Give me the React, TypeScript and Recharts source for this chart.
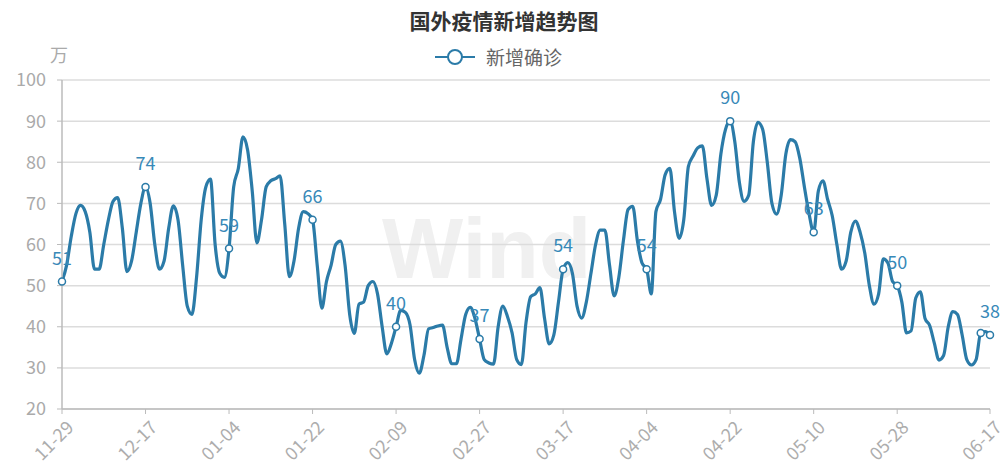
import React from 'react';
import { LineChart, Line, XAxis, YAxis, CartesianGrid, LabelList } from 'recharts';

// daily dates 2020-11-29 .. 2021-06-17
const START = Date.UTC(2020, 10, 29);
const dates: string[] = [];
for (let i = 0; i < 201; i++) {
  const d = new Date(START + i * 86400000);
  dates.push(
    `${String(d.getUTCMonth() + 1).padStart(2, '0')}-${String(d.getUTCDate()).padStart(2, '0')}`
  );
}

// 新增确诊 (万)
const newCases = [
  51, 55, 62, 67.5, 69.5, 68, 63, 54, 54, 60,
  66, 70.5, 71.4, 64, 53.4, 56, 63, 70, 74, 70,
  60, 54, 56, 64, 69.4, 66, 55, 45, 43, 52,
  66, 74, 75.9, 60, 53, 52, 59, 74, 78.5, 86.2,
  83, 73, 60.4, 66, 74, 75.5, 76, 76.7, 65, 52.2,
  56, 64, 68, 67.5, 66, 55, 44.5, 51, 55, 60,
  60.8, 55, 43, 38.4, 45.5, 46, 50, 51, 48, 40,
  33.4, 36, 40, 44, 43.5, 40.5, 32, 28.7, 33, 39.5,
  39.8, 40.2, 40.4, 35, 31, 31, 37, 43, 44.7, 42,
  37, 32, 31.2, 30.9, 40, 45, 42.5, 38.5, 32, 30.8,
  41, 47.3, 48, 49.5, 42, 35.8, 38, 46, 54, 55.6,
  53, 45, 42.1, 46, 53, 60, 63.5, 63.5, 55, 47.5,
  52, 61, 68.5, 69.3, 61, 55.5, 54, 48, 68, 71,
  77, 78.5, 68, 61.5, 66, 79, 81.5, 83.5, 84, 76,
  69.5, 72, 82, 88, 90, 85, 75, 70.5, 72, 85,
  89.7, 88, 80, 70, 67.4, 72, 82, 85.5, 85, 81,
  74, 67.5, 63, 73, 75.5, 71, 67, 60, 54, 56,
  63, 65.7, 63, 58, 50, 45.5, 48, 56.5, 55.5, 51,
  50, 46, 38.5, 39, 47, 48.5, 42, 40.3, 36, 31.9,
  33, 40, 43.7, 43, 38, 32, 30.7, 32, 38.5, 38.8,
  38,
];

const tickDates = ['11-29', '12-17', '01-04', '01-22', '02-09', '02-27', '03-17', '04-04', '04-22', '05-10', '05-28', '06-17'];
const markedDates = [...tickDates, '06-15'];
const yTicks = [20, 30, 40, 50, 60, 70, 80, 90, 100];

const LINE = '#2b7ba8';
const FONT = "'Noto Sans CJK SC', 'Noto Sans', sans-serif";

const table = dates.map((date, i) => ({
  date,
  value: newCases[i],
  mark: markedDates.includes(date),
  lab: tickDates.includes(date) ? Math.round(newCases[i]) : undefined,
}));

const renderDot = (props: any) => {
  const { cx, cy, payload, index } = props;
  if (!payload || !payload.mark) return <g key={`d${index}`} />;
  return <circle key={`d${index}`} cx={cx} cy={cy} r={3.5} fill="#fff" stroke={LINE} strokeWidth={1.5} />;
};

const XTick = ({ x, y, payload }: any) => (
  <text
    x={x}
    y={y}
    dy={18}
    transform={`rotate(-45 ${x} ${y})`}
    textAnchor="end"
    fontSize={18}
    fill="#adadad"
    fontFamily={FONT}
  >
    {payload.value}
  </text>
);

export default function App() {
  return (
    <div style={{ position: 'relative', width: 1008, height: 470, fontFamily: FONT, background: '#fff' }}>
      <style>{'body{margin:0}'}</style>

      {/* watermark */}
      <div
        style={{
          position: 'absolute',
          left: 382,
          top: 198,
          fontFamily: "'Liberation Sans', Arial, sans-serif",
          fontWeight: 'bold',
          fontSize: 86,
          color: '#f0f0f0',
          lineHeight: '100px',
        }}
      >
        Wind
      </div>

      <div style={{ position: 'absolute', left: 0, top: 0 }}>
        <LineChart width={1008} height={470} data={table} margin={{ top: 80, right: 18, bottom: 1, left: 0 }}>
          <CartesianGrid vertical={false} stroke="#dcdcdc" strokeWidth={1.5} />
          <XAxis
            dataKey="date"
            ticks={tickDates}
            interval={0}
            height={60}
            tick={<XTick />}
            tickSize={5}
            axisLine={{ stroke: '#bbb', strokeWidth: 1.5 }}
            tickLine={{ stroke: '#bbb' }}
          />
          <YAxis
            type="number"
            domain={[20, 100]}
            ticks={yTicks}
            interval={0}
            width={62}
            tickSize={5}
            tickMargin={11}
            tick={{ fontSize: 18, fill: '#aaa', fontFamily: FONT }}
            axisLine={{ stroke: '#bbb', strokeWidth: 1.5 }}
            tickLine={{ stroke: '#bbb' }}
          />
          <Line
            type="monotone"
            dataKey="value"
            stroke={LINE}
            strokeWidth={3.2}
            dot={renderDot}
            activeDot={false}
            isAnimationActive={false}
          >
            <LabelList dataKey="lab" position="top" offset={17} fill="#3889b8" fontSize={18} fontFamily={FONT} />
          </Line>
        </LineChart>
      </div>

      {/* title */}
      <div
        style={{
          position: 'absolute',
          top: 5,
          left: 0,
          width: 1008,
          textAlign: 'center',
          fontSize: 21,
          fontWeight: 'bold',
          color: '#333',
          lineHeight: '30px',
        }}
      >
        国外疫情新增趋势图
      </div>

      {/* legend */}
      <svg style={{ position: 'absolute', left: 430, top: 44 }} width={50} height={26}>
        <line x1={5} y1={13} x2={45} y2={13} stroke={LINE} strokeWidth={2} />
        <circle cx={25} cy={13} r={7} fill="#fff" stroke={LINE} strokeWidth={2} />
      </svg>
      <div style={{ position: 'absolute', left: 486, top: 43, fontSize: 19, color: '#666', lineHeight: '28px' }}>
        新增确诊
      </div>

      {/* unit */}
      <div style={{ position: 'absolute', left: 50, top: 41, fontSize: 18, color: '#aaa', lineHeight: '26px' }}>
        万
      </div>
    </div>
  );
}
